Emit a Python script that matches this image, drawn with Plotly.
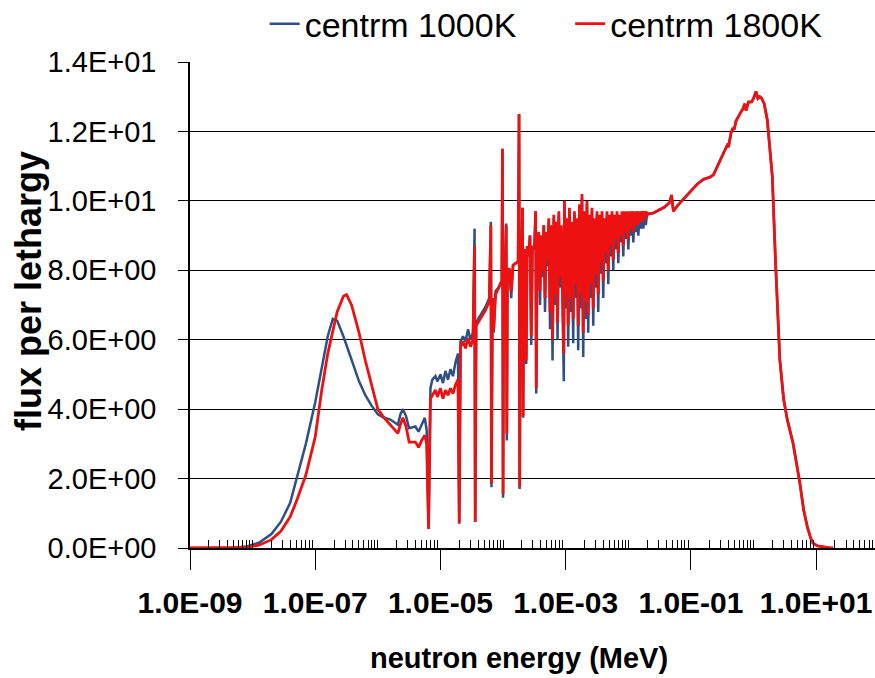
import plotly.graph_objects as go

# ---- data (log10 of neutron energy in MeV, flux per lethargy) ----
# thermal region
therm_log_e = [-9.0, -8.6, -8.3, -8.1, -7.9, -7.7, -7.55, -7.4, -7.3, -7.15, -7.0, -6.9, -6.8,
               -6.72, -6.65, -6.55, -6.5, -6.42, -6.3, -6.2, -6.1, -6.0, -5.9, -5.8, -5.68,
               -5.64, -5.6, -5.55, -5.5, -5.4, -5.35, -5.3, -5.25, -5.22]
therm_1000 = [0, 0, 0.01, 0.04, 0.15, 0.4, 0.75, 1.3, 1.95, 3.0, 4.2, 5.2, 6.1,
              6.6, 6.55, 6.1, 5.85, 5.4, 4.8, 4.4, 4.1, 3.85, 3.75, 3.7, 3.55,
              3.85, 4.0, 3.8, 3.45, 3.5, 3.35, 3.55, 3.75, 3.4]
therm_1800 = [0, 0, 0.0, 0.02, 0.08, 0.24, 0.48, 0.9, 1.35, 2.1, 3.2, 4.5, 5.6,
              6.2, 6.8, 7.25, 7.3, 7.0, 6.2, 5.4, 4.7, 4.0, 3.75, 3.55, 3.3,
              3.55, 3.75, 3.5, 3.05, 3.05, 2.9, 3.1, 3.25, 3.0]

# resolved resonance region
res_log_e = [-5.19, -5.16, -5.13, -5.08, -5.05, -5.0, -4.96, -4.92, -4.88, -4.84, -4.80, -4.76,
             -4.72, -4.70, -4.68, -4.64, -4.60, -4.56, -4.52, -4.48, -4.455, -4.445, -4.43,
             -4.38, -4.33, -4.28, -4.22, -4.195, -4.185, -4.17, -4.15, -4.12, -4.07, -4.02,
             -4.01, -4.0, -3.99, -3.97, -3.95, -3.94, -3.93, -3.90, -3.87, -3.84, -3.80,
             -3.76, -3.745, -3.735, -3.72, -3.70, -3.69, -3.68, -3.665, -3.645, -3.63,
             -3.615, -3.59, -3.57, -3.55, -3.53, -3.50, -3.48, -3.47, -3.455]
res_1000 = [0.6, 4.6, 4.85, 4.95, 4.8, 5.0, 4.75, 5.1, 4.85, 5.15, 4.95, 5.35,
            5.6, 0.75, 5.95, 6.1, 5.95, 6.3, 6.0, 6.2, 9.2, 0.75, 6.5,
            6.65, 6.8, 6.95, 7.2, 9.4, 1.75, 7.2, 6.2, 7.4, 7.5, 7.7,
            11.5, 1.45, 7.9, 7.95, 9.35, 3.1, 8.0, 8.05, 7.2, 8.15, 8.2,
            8.25, 12.5, 1.7, 8.4, 8.5, 9.8, 3.75, 8.5, 8.6, 5.3,
            8.7, 8.4, 9.0, 5.85, 8.7, 8.6, 9.7, 4.45, 8.7]
res_1800 = [0.55, 4.3, 4.4, 4.55, 4.35, 4.6, 4.3, 4.55, 4.4, 4.6, 4.45, 4.7,
            4.85, 0.7, 5.8, 5.95, 5.75, 6.05, 5.8, 6.0, 8.7, 0.75, 6.4,
            6.55, 6.7, 6.85, 7.1, 9.3, 1.85, 7.2, 6.3, 7.3, 7.5, 7.7,
            11.5, 1.55, 7.9, 7.95, 9.3, 3.3, 8.0, 8.05, 7.4, 8.15, 8.2,
            8.25, 12.5, 1.75, 8.4, 8.5, 9.8, 3.8, 8.5, 8.6, 5.4,
            8.7, 8.5, 9.0, 6.1, 8.7, 8.6, 9.7, 4.6, 8.7]

# dense resonance band
dense_log_e = [-3.43, -3.41, -3.39, -3.37, -3.35, -3.33, -3.31, -3.29, -3.27, -3.25, -3.23, -3.21,
               -3.19, -3.17, -3.15, -3.13, -3.11, -3.09, -3.07, -3.05, -3.03, -3.02, -3.00, -2.98,
               -2.96, -2.94, -2.92, -2.90, -2.88, -2.86, -2.84, -2.82, -2.80, -2.78, -2.76, -2.74,
               -2.72, -2.70, -2.68, -2.66, -2.64, -2.62, -2.60, -2.58, -2.56, -2.54, -2.52, -2.50,
               -2.48, -2.46, -2.44, -2.42, -2.40, -2.38, -2.36, -2.34, -2.32, -2.30, -2.28, -2.26,
               -2.24, -2.22, -2.20, -2.18, -2.16, -2.14, -2.12, -2.10, -2.08, -2.06, -2.04, -2.02,
               -2.00, -1.98, -1.96, -1.94, -1.92, -1.90, -1.88, -1.86, -1.84, -1.82, -1.80, -1.78,
               -1.76, -1.74, -1.72, -1.70]
dense_1000 = [9.1, 7.0, 9.0, 7.8, 9.3, 6.8, 9.0, 8.1, 9.4, 6.3, 9.2, 5.4,
              9.5, 7.0, 9.3, 6.0, 9.6, 7.5, 9.2, 6.5, 4.8, 9.9, 6.9, 9.4,
              5.8, 9.7, 6.8, 9.3, 5.9, 9.6, 7.2, 9.4, 5.7, 9.8, 6.9, 10.1,
              5.5, 9.6, 6.6, 9.9, 6.2, 9.5, 7.2, 9.7, 6.4, 9.4, 7.5, 9.6,
              6.8, 9.5, 7.9, 9.6, 7.2, 9.4, 8.2, 9.6, 7.6, 9.5, 8.4, 9.6,
              8.0, 9.5, 8.6, 9.6, 8.2, 9.5, 8.8, 9.6, 8.4, 9.6, 8.9, 9.6,
              8.6, 9.6, 9.0, 9.7, 8.8, 9.6, 9.1, 9.7, 9.0, 9.6, 9.2, 9.7,
              9.2, 9.7, 9.3, 9.65]
dense_1800 = [9.1, 7.4, 9.0, 8.0, 9.3, 7.2, 9.1, 8.3, 9.5, 6.8, 9.3, 6.0,
              9.6, 7.3, 9.4, 6.5, 9.7, 7.8, 9.3, 7.0, 5.6, 10.0, 7.3, 9.5,
              6.4, 9.8, 7.2, 9.4, 6.6, 9.7, 7.6, 9.5, 6.4, 9.9, 7.3, 10.2,
              6.2, 9.7, 7.1, 10.0, 6.7, 9.6, 7.6, 9.8, 6.9, 9.5, 7.9, 9.7,
              7.3, 9.6, 8.2, 9.7, 7.7, 9.5, 8.5, 9.7, 8.0, 9.6, 8.7, 9.7,
              8.3, 9.6, 8.9, 9.7, 8.5, 9.6, 9.0, 9.7, 8.7, 9.7, 9.1, 9.7,
              8.9, 9.7, 9.2, 9.7, 9.1, 9.7, 9.3, 9.7, 9.3, 9.7, 9.4, 9.7,
              9.4, 9.7, 9.5, 9.65]

# fast / fission region (both temperatures coincide)
fast_log_e = [-1.68, -1.6, -1.5, -1.42, -1.34, -1.31, -1.28, -1.22, -1.12, -1.0, -0.9, -0.8,
              -0.7, -0.64, -0.58, -0.52, -0.46, -0.42, -0.40, -0.36, -0.33, -0.31, -0.28,
              -0.22, -0.17, -0.14, -0.12, -0.08, -0.03, 0.0, 0.04, 0.07, 0.10, 0.13, 0.17,
              0.22, 0.26, 0.30, 0.35, 0.42, 0.48, 0.54, 0.63, 0.68, 0.74, 0.80, 0.86, 0.91,
              0.95, 1.02, 1.11, 1.2, 1.27]
fast_1000 = [9.62, 9.65, 9.75, 9.82, 9.95, 10.17, 9.7, 9.85, 10.05, 10.3, 10.48, 10.62,
             10.68, 10.75, 11.0, 11.25, 11.45, 11.6, 11.55, 11.95, 12.1, 12.05, 12.3,
             12.5, 12.65, 12.8, 12.6, 12.85, 12.85, 12.95, 13.15, 12.95, 13.0, 12.95, 12.8,
             12.33, 11.5, 10.7, 8.3, 5.42, 4.3, 3.69, 3.03, 2.5, 1.87, 1.1, 0.6, 0.3,
             0.14, 0.06, 0.03, 0.01, 0.0]
fast_1800 = list(fast_1000)

x_tick_labels = ["1.0E-09", "1.0E-07", "1.0E-05", "1.0E-03", "1.0E-01", "1.0E+01"]
x_tick_vals = [1e-9, 1e-7, 1e-5, 1e-3, 1e-1, 1e1]
y_tick_vals = [0, 2, 4, 6, 8, 10, 12, 14]
y_tick_labels = ["0.0E+00", "2.0E+00", "4.0E+00", "6.0E+00", "8.0E+00",
                 "1.0E+01", "1.2E+01", "1.4E+01"]

# ---- assemble ----
for a, b, c in [(therm_log_e, therm_1000, therm_1800), (res_log_e, res_1000, res_1800),
                (dense_log_e, dense_1000, dense_1800), (fast_log_e, fast_1000, fast_1800)]:
    assert len(a) == len(b) == len(c), (len(a), len(b), len(c))

log_e = therm_log_e + res_log_e + dense_log_e + fast_log_e
energy = [10 ** v for v in log_e]
flux_1000K = therm_1000 + res_1000 + dense_1000 + fast_1000
flux_1800K = therm_1800 + res_1800 + dense_1800 + fast_1800

minor_vals = []
for d in range(-9, 2):
    for m in range(1, 10):
        v = m * 10.0 ** d
        if m == 1 and d % 2 != 0:
            continue
        minor_vals.append(v)

FONT = "Liberation Sans, Arial, sans-serif"

fig = go.Figure()
fig.add_trace(go.Scatter(x=energy, y=flux_1000K, mode="lines", name="centrm 1000K",
                         line=dict(color="#2E5082", width=2.5), legend="legend",
                         showlegend=True))
fig.add_trace(go.Scatter(x=energy, y=flux_1800K, mode="lines", name="centrm 1800K",
                         line=dict(color="#EE1111", width=2.8), legend="legend2",
                         showlegend=True))

fig.update_layout(
    width=875, height=678,
    showlegend=True,
    margin=dict(l=190, r=0, t=62, b=130, autoexpand=False),
    plot_bgcolor="white", paper_bgcolor="white",
    font=dict(family=FONT, color="black"),
    legend=dict(x=0.109, y=1.078, xanchor="left", yanchor="middle", orientation="h",
                font=dict(size=34, family=FONT), bgcolor="rgba(0,0,0,0)", visible=True),
    legend2=dict(x=0.555, y=1.078, xanchor="left", yanchor="middle", orientation="h",
                 font=dict(size=34, family=FONT), bgcolor="rgba(0,0,0,0)", visible=True),
    xaxis=dict(type="log", range=[-9, 1.94], tickmode="array", tickvals=x_tick_vals,
               ticktext=x_tick_labels, ticks="outside", ticklen=20, tickwidth=1,
               tickcolor="black", showline=True, linecolor="black", linewidth=1.5,
               showgrid=False, zeroline=False, ticklabelstandoff=7,
               tickfont=dict(size=30, family=FONT, weight="bold"),
               minor=dict(tickmode="array", tickvals=minor_vals, ticks="inside",
                          ticklen=8, tickwidth=1, tickcolor="black", showgrid=False)),
    yaxis=dict(range=[0, 14], tickmode="array", tickvals=y_tick_vals, ticktext=y_tick_labels,
               ticks="outside", ticklen=10, tickwidth=1, tickcolor="black",
               showline=True, linecolor="black", linewidth=1.5,
               showgrid=True, gridcolor="black", gridwidth=1, zeroline=False,
               ticklabelstandoff=16, tickfont=dict(size=29, family=FONT)),
    annotations=[
        dict(text="<b>neutron energy (MeV)</b>", xref="paper", yref="paper",
             x=0.480, y=-0.2263, xanchor="center", yanchor="middle", showarrow=False,
             font=dict(size=29, family=FONT)),
        dict(text="<b>flux per lethargy</b>", xref="paper", yref="paper",
             x=-0.2365, y=0.5288, xanchor="center", yanchor="middle", showarrow=False,
             textangle=-90, font=dict(size=36, family=FONT)),
    ],
)

fig.write_html("out.html")
